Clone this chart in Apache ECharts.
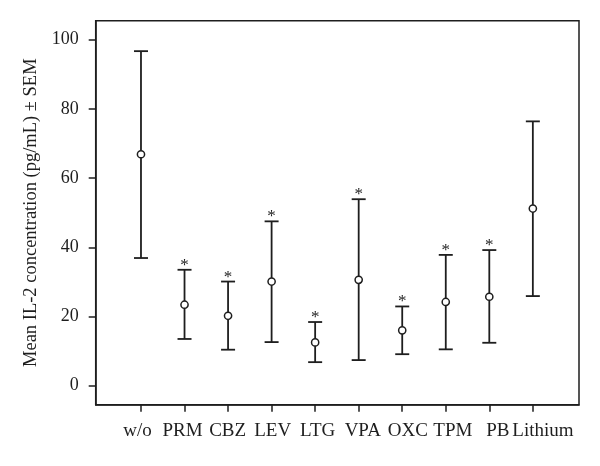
<!DOCTYPE html>
<html><head><meta charset="utf-8">
<script src="https://cdn.jsdelivr.net/npm/echarts@6/dist/echarts.min.js"></script>
<style>html,body{margin:0;padding:0;background:#fff}#c{width:600px;height:466px}</style>
</head><body><div id="c"></div>
<script>
const categories = ['w/o','PRM','CBZ','LEV','LTG','VPA','OXC','TPM','PB','Lithium'];
const meanValues = [66.9, 23.4, 20.2, 30.1, 12.5, 30.6, 16.0, 24.2, 25.7, 51.2];
const upperValues = [96.7, 33.5, 30.1, 47.5, 18.4, 53.9, 22.9, 37.8, 39.2, 76.4];
const lowerValues = [36.9, 13.5, 10.4, 12.6, 6.8, 7.4, 9.1, 10.5, 12.4, 25.9];
const significant = [false, true, true, true, true, true, true, true, true, false];
const yTicks = [0, 20, 40, 60, 80, 100];

const FONT = '"Liberation Serif","DejaVu Serif",serif';
const INK = '#1e1e1e';

const positions = categories.map((c, i) => i + 1);
const errData = categories.map((c, i) => [i + 1, lowerValues[i], upperValues[i], meanValues[i], significant[i] ? 1 : 0]);

const chart = echarts.init(document.getElementById('c'));
chart.setOption({
  animation: false,
  grid: { left: 95.7, top: 20.7, right: 21, bottom: 61.3, show: true, borderColor: INK, borderWidth: 1.5, backgroundColor: 'transparent' },
  xAxis: [{
    type: 'value', min: -0.04, max: 11.06,
    splitLine: { show: false },
    axisLine: { show: true, onZero: false, lineStyle: { color: INK, width: 1.5 } },
    axisTick: { show: true, inside: false, length: 7, customValues: positions, lineStyle: { color: INK, width: 1.5 } },
    axisLabel: { show: false }
  }, {
    // label row: the printed labels are spaced slightly wider than the ticks
    type: 'value', min: 0.072, max: 10.80, position: 'bottom',
    splitLine: { show: false },
    axisLine: { show: false, onZero: false },
    axisTick: { show: false },
    axisLabel: { customValues: positions, formatter: v => categories[Math.round(v) - 1] || '', color: INK, fontFamily: FONT, fontSize: 19, margin: 17 }
  }],
  yAxis: {
    type: 'value', min: -5.5, max: 105.5,
    name: 'Mean IL-2 concentration (pg/mL) \u00b1 SEM',
    nameLocation: 'middle', nameRotate: 90, nameGap: 55,
    nameTextStyle: { color: INK, fontFamily: FONT, fontSize: 18.5 },
    splitLine: { show: false },
    axisLine: { show: true, onZero: false, lineStyle: { color: INK, width: 1.5 } },
    axisTick: { show: true, inside: false, length: 7, customValues: yTicks, lineStyle: { color: INK, width: 1.5 } },
    axisLabel: { customValues: yTicks, color: INK, fontFamily: FONT, fontSize: 18, margin: 17 }
  },
  series: [{
    type: 'custom',
    xAxisIndex: 0,
    data: errData,
    encode: { x: 0, y: [1, 2, 3] },
    renderItem: function (params, api) {
      const x = api.value(0);
      const lo = api.coord([x, api.value(1)]);
      const hi = api.coord([x, api.value(2)]);
      const mid = api.coord([x, api.value(3)]);
      const hw = 7;
      const style = { stroke: INK, lineWidth: 1.8, fill: null };
      const children = [
        { type: 'line', shape: { x1: hi[0], y1: hi[1], x2: mid[0], y2: mid[1] - 3.6 }, style: style },
        { type: 'line', shape: { x1: mid[0], y1: mid[1] + 3.6, x2: lo[0], y2: lo[1] }, style: style },
        { type: 'line', shape: { x1: hi[0] - hw, y1: hi[1], x2: hi[0] + hw, y2: hi[1] }, style: style },
        { type: 'line', shape: { x1: lo[0] - hw, y1: lo[1], x2: lo[0] + hw, y2: lo[1] }, style: style },
        { type: 'circle', shape: { cx: mid[0], cy: mid[1], r: 3.6 }, style: { stroke: INK, lineWidth: 1.5, fill: 'none' } }
      ];
      if (api.value(4) === 1) {
        children.push({ type: 'text', x: hi[0], y: hi[1] + 4, style: { text: '*', fill: INK, font: '17px ' + FONT, textAlign: 'center', textVerticalAlign: 'bottom' } });
      }
      return { type: 'group', children: children };
    }
  }]
});
</script></body></html>
